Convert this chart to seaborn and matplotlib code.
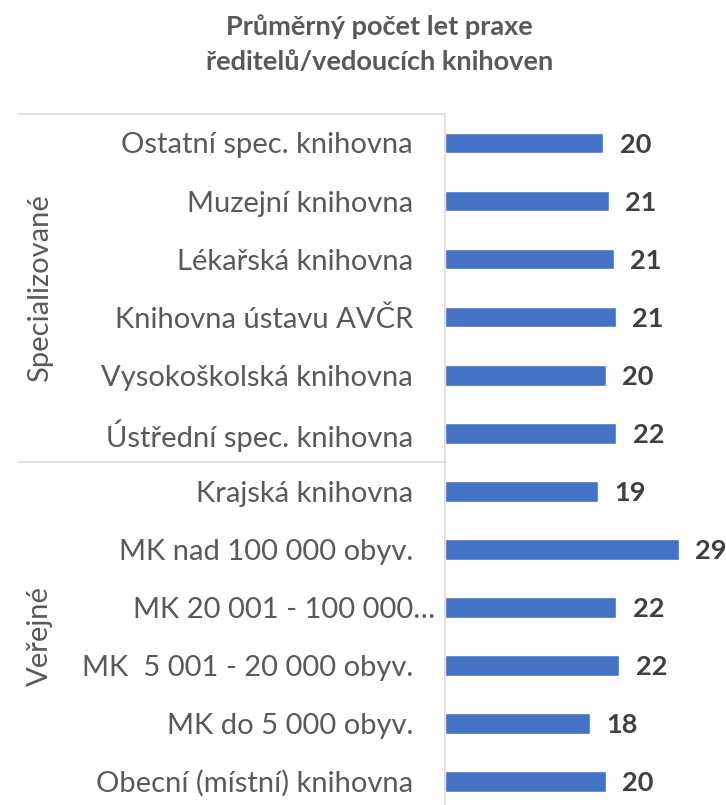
import pandas as pd
import matplotlib
matplotlib.use("Agg")
import matplotlib.pyplot as plt
import matplotlib.transforms as mtransforms
import seaborn as sns

categories = [
    "Ostatní spec. knihovna",
    "Muzejní knihovna",
    "Lékařská knihovna",
    "Knihovna ústavu AVČR",
    "Vysokoškolská knihovna",
    "Ústřední spec. knihovna",
    "Krajská knihovna",
    "MK nad 100 000 obyv.",
    "MK 20 001 - 100 000…",
    "MK  5 001 - 20 000 obyv.",
    "MK do 5 000 obyv.",
    "Obecní (místní) knihovna",
]
values = [19.9, 20.6, 21.2, 21.45, 20.2, 21.55, 19.2, 29.4, 21.55, 21.9, 18.2, 20.2]
groups = ["Specializované"] * 6 + ["Veřejné"] * 6
group_names = ["Specializované", "Veřejné"]

df = pd.DataFrame({"kategorie": categories, "praxe": values, "skupina": groups})

sns.set_style("white")
plt.rcParams['font.family'] = ['Lato', 'DejaVu Sans']

fig = plt.figure(figsize=(7.26, 8.05), dpi=100)
ax = fig.add_axes([0.613, 0.0, 0.387, 0.8584])

sns.barplot(data=df, x="praxe", y="kategorie", color="#4472C4", width=0.36,
            saturation=1, ax=ax)

# value labels
labels = ax.bar_label(ax.containers[0], fmt="%.0f", padding=12, fontsize=19.5,
                      fontweight="bold", color="#404040")
for t in labels:
    t.set_va("center_baseline")

ax.set_xlim(0, 35.35)
ax.set_ylim(11.41, -0.5)
ax.set_xlabel("")
ax.set_ylabel("")
ax.set_xticks([])
ax.tick_params(axis="y", length=0, pad=23, labelsize=21, labelcolor="#595959")

# the truncated label runs a bit closer to the axis, like in Excel
shift = mtransforms.ScaledTranslation(0.22, 0, fig.dpi_scale_trans)
for lbl in ax.get_yticklabels():
    if lbl.get_text().endswith("…"):
        lbl.set_transform(lbl.get_transform() + shift)

for s in ["top", "right", "bottom"]:
    ax.spines[s].set_visible(False)
ax.spines["left"].set_color("#d9d9d9")
ax.spines["left"].set_linewidth(1.2)

# group separators and group labels
trans = mtransforms.blended_transform_factory(ax.transAxes, ax.transData)
x_left = (18 / 726 - 0.613) / 0.387
for yy in [-0.5, 5.5]:
    ax.plot([x_left, 0], [yy, yy], color="#d9d9d9", lw=1.2, transform=trans, clip_on=False)

x_grp = (40 / 726 - 0.613) / 0.387
for i, g in enumerate(group_names):
    ax.text(x_grp, 2.5 + 6 * i, g, rotation=90, ha="center", va="center",
            fontsize=21, color="#595959", transform=trans)

fig.text(0.523, 0.945, "Průměrný počet let praxe\nředitelů/vedoucích knihoven",
         ha="center", va="center", fontsize=19.5, fontweight="bold",
         color="#595959", linespacing=1.55)

fig.savefig("out.png", dpi=100)
